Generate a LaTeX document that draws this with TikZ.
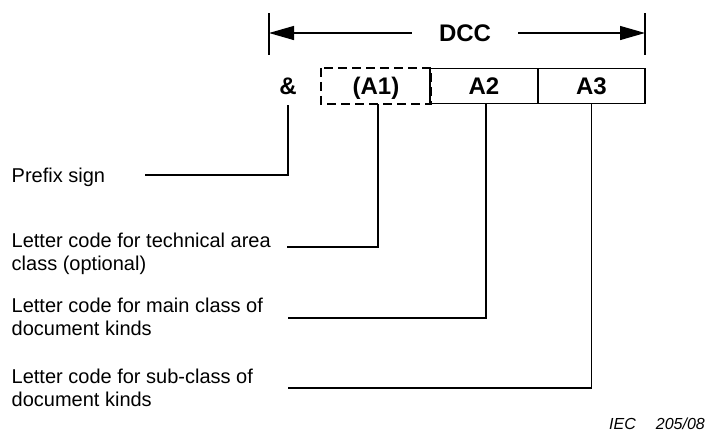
\documentclass[tikz,border=0pt]{standalone}
\usepackage{fontspec}
\setmainfont{Liberation Sans}
\usetikzlibrary{arrows.meta}
\begin{document}
\begin{tikzpicture}[x=1pt,y=-1pt,
  lbl/.style={font=\fontsize{20}{23}\selectfont, inner sep=0pt, anchor=base west},
  code/.style={font=\fontsize{24}{28}\selectfont\bfseries, inner sep=0pt, text height=17pt, text depth=0pt},
  cbox/.style={draw, line width=1.3pt, minimum height=35pt, inner sep=0pt, code},
  conn/.style={line width=1.3pt},
  dimarrow/.style={line width=1.3pt, -{Triangle[length=25pt,width=14pt]}}]
\useasboundingbox (0,0) rectangle (706,432);
% dimension
\coordinate (lt1) at (269,13); \coordinate (lt2) at (269,55);
\coordinate (rt1) at (645,13); \coordinate (rt2) at (645,55);
\draw[conn] (lt1) -- (lt2);
\draw[conn] (rt1) -- (rt2);
\node[code, minimum width=106pt] (dcc) at (465,33) {DCC};
\coordinate (ltip) at (269,33); \coordinate (rtip) at (645,33);
\draw[dimarrow] (dcc.west) -- (ltip);
\draw[dimarrow] (dcc.east) -- (rtip);
% code boxes
\node[code] (amp) at (288,86) {\&};
\node[cbox, draw=none, minimum width=108pt] (a1) at (376,86) {(A1)};
\draw[line width=1.8pt, dash pattern=on 9pt off 5pt] (a1.north west) rectangle (a1.south east);
\node[cbox, minimum width=108pt] (a2) at (484,86) {A2};
\node[cbox, minimum width=107pt] (a3) at (591.5,86) {A3};
% labels
\node[lbl] (pre) at (11.5,182) {Prefix sign};
\node[lbl] (tech1) at (11.5,247) {Letter code for technical area};
\node[lbl] (tech2) at (11.5,270) {class (optional)};
\node[lbl] (main1) at (11.5,312) {Letter code for main class of};
\node[lbl] (main2) at (11.5,335) {document kinds};
\node[lbl] (sub1) at (11.5,383) {Letter code for sub-class of};
\node[lbl] (sub2) at (11.5,406) {document kinds};
% connectors
\coordinate (sp) at (145,175);
\coordinate (st) at (287,247);
\coordinate (sm) at (288,318);
\coordinate (ss) at (288,388);
\coordinate (ampb) at (288,105);
\draw[conn] (sp) -| (ampb);
\draw[conn] (st) -| ([xshift=2pt]a1.south);
\draw[conn] (sm) -| ([xshift=2pt]a2.south);
\draw[conn] (ss) -| (a3.south);
% source tag
\node[font=\fontsize{16}{18}\selectfont\itshape, inner sep=0pt, anchor=base east] (iec) at (705,429) {IEC\hspace{20pt}205/08};
\end{tikzpicture}
\end{document}
